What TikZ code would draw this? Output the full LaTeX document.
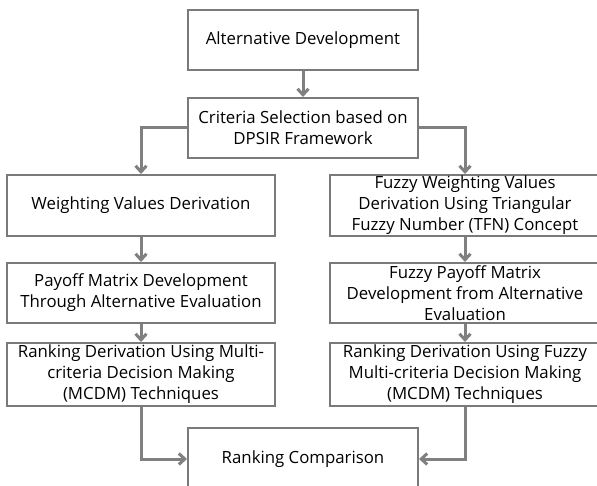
\documentclass[tikz,border=0pt]{standalone}
\usepackage{fontspec}
\setmainfont{Open Sans}
\usetikzlibrary{arrows.meta}
\definecolor{linegray}{HTML}{808080}
\definecolor{boxgray}{HTML}{7A7A7A}
\tikzset{
  stepbox/.style={draw=boxgray, line width=2pt, fill=white, rectangle, inner sep=0pt,
    align=center, font=\fontsize{16.8}{21}\selectfont, text=black},
  flow/.style={draw=linegray, line width=3pt, -{Straight Barb[length=6pt,width=11pt]}}
}
\begin{document}
\begin{tikzpicture}[x=1pt,y=-1pt]
\useasboundingbox (0,0) rectangle (597,486);
\clip (0,0) rectangle (597,486);
\fill[white] (0,0) rectangle (597,486);
\node[stepbox, minimum width=230pt, minimum height=60pt] (alt) at (303,40) {Alternative Development};
\node[stepbox, minimum width=230pt, minimum height=60pt] (crit) at (303,128) {Criteria Selection based on\\DPSIR Framework};
\node[stepbox, minimum width=268pt, minimum height=61pt] (wv) at (141,205.5) {Weighting Values Derivation};
\node[stepbox, minimum width=270pt, minimum height=61pt] (fwv) at (465,205.5) {Fuzzy Weighting Values\\Derivation Using Triangular\\Fuzzy Number (TFN) Concept};
\node[stepbox, minimum width=268pt, minimum height=60pt] (pm) at (141,293) {Payoff Matrix Development\\Through Alternative Evaluation};
\node[stepbox, minimum width=270pt, minimum height=60pt] (fpm) at (465,293) {Fuzzy Payoff Matrix\\Development from Alternative\\Evaluation};
\node[stepbox, minimum width=268pt, minimum height=63pt] (rd) at (141,374.5) {Ranking Derivation Using Multi-\\criteria Decision Making\\(MCDM) Techniques};
\node[stepbox, minimum width=270pt, minimum height=63pt] (frd) at (465,374.5) {Ranking Derivation Using Fuzzy\\Multi-criteria Decision Making\\(MCDM) Techniques};
\node[stepbox, minimum width=230pt, minimum height=62pt] (rc) at (303,459) {Ranking Comparison};
\draw[flow] (alt.south) -- (crit.north);
\draw[flow] (crit.west) -| (wv.north);
\draw[flow] (crit.east) -| (fwv.north);
\draw[flow] (wv.south) -- (pm.north);
\draw[flow] (fwv.south) -- (fpm.north);
\draw[flow] (pm.south) -- (rd.north);
\draw[flow] (fpm.south) -- (frd.north);
\draw[flow] (rd.south) |- (rc.west);
\draw[flow] (frd.south) |- (rc.east);
\end{tikzpicture}
\end{document}
